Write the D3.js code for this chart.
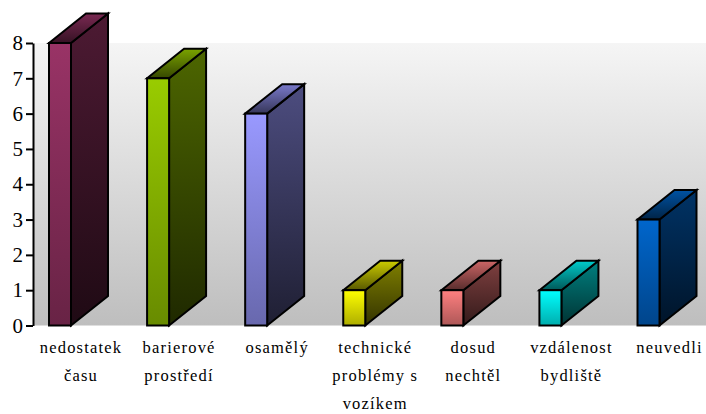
<!DOCTYPE html>
<html><head><meta charset="utf-8">
<script src="https://cdn.jsdelivr.net/npm/d3@7"></script>
<style>html,body{margin:0;padding:0;background:#fff}svg{display:block}</style>
</head><body><svg id="c" width="706" height="414"></svg>
<script>
const categories = [["nedostatek","času"],["barierové","prostředí"],["osamělý"],["technické","problémy s","vozíkem"],["dosud","nechtěl"],["vzdálenost","bydliště"],["neuvedli"]];
const values = [8,7,6,1,1,1,3];
const colors = ["#993366","#99cc00","#9999ff","#ffff00","#ff8080","#00ffff","#0066cc"];
const yTicks = [0,1,2,3,4,5,6,7,8];

const svg = d3.select("#c"), defs = svg.append("defs");
const y = d3.scaleLinear().domain([0,8]).range([325.5,43]);
const x = d3.scalePoint().domain(d3.range(values.length)).range([49,637.5]);
const front = 22, dx = 37, dy = 29.5;

function grad(id, top, bottom){
  const g = defs.append("linearGradient").attr("id",id).attr("x1",0).attr("y1",0).attr("x2",0).attr("y2",1);
  g.append("stop").attr("offset",0).attr("stop-color",top);
  g.append("stop").attr("offset",1).attr("stop-color",bottom);
}
grad("bg","#f5f5f5","#bebebe");
values.forEach((v,i)=>{
  const c = d3.color(colors[i]);
  const mul = k => d3.rgb(c.r*k,c.g*k,c.b*k).formatHex();
  grad("f"+i, mul(1), mul(0.68));
  grad("s"+i, mul(0.5), mul(0.2));
  grad("t"+i, mul(0.8), mul(0.35));
});

svg.append("rect").attr("x",34).attr("y",y(8)).attr("width",672).attr("height",y(0)-y(8)).attr("fill","url(#bg)");

const bars = svg.selectAll("g.bar").data(values).join("g").attr("class","bar")
  .attr("stroke","#000").attr("stroke-width",2).attr("stroke-linejoin","miter");
bars.each(function(v,i){
  const g = d3.select(this), x0 = x(i), x1 = x0+front, yt = y(v), yb = y(0);
  const pts = a => a.map(p=>p.join(",")).join(" ");
  g.append("polygon").attr("points",pts([[x1,yt],[x1+dx,yt-dy],[x1+dx,yb-dy],[x1,yb]])).attr("fill",`url(#s${i})`);
  g.append("polygon").attr("points",pts([[x0,yt],[x0+dx,yt-dy],[x1+dx,yt-dy],[x1,yt]])).attr("fill",`url(#t${i})`);
  g.append("rect").attr("x",x0).attr("y",yt).attr("width",front).attr("height",yb-yt).attr("fill",`url(#f${i})`);
});

const axis = svg.append("g").attr("transform","translate(33,0)")
  .call(d3.axisLeft(y).tickValues(yTicks).tickFormat(d3.format("d")).tickSize(7).tickSizeOuter(0));
axis.selectAll(".domain,.tick line").attr("stroke","#000").attr("stroke-width",2);
axis.selectAll("text").attr("x",-10).attr("font-family","'Liberation Serif'").attr("font-size",21).attr("fill","#000");

svg.append("g").selectAll("text").data(categories).join("text")
  .attr("font-family","'Liberation Serif'").attr("font-size",16.5).attr("letter-spacing",1.2).attr("text-anchor","middle").attr("fill","#000")
  .each(function(lines,i){
    d3.select(this).selectAll("tspan").data(lines).join("tspan")
      .attr("x",x(i)+front/2+21).attr("y",(d,j)=>353+j*28).text(d=>d);
  });
</script></body></html>
